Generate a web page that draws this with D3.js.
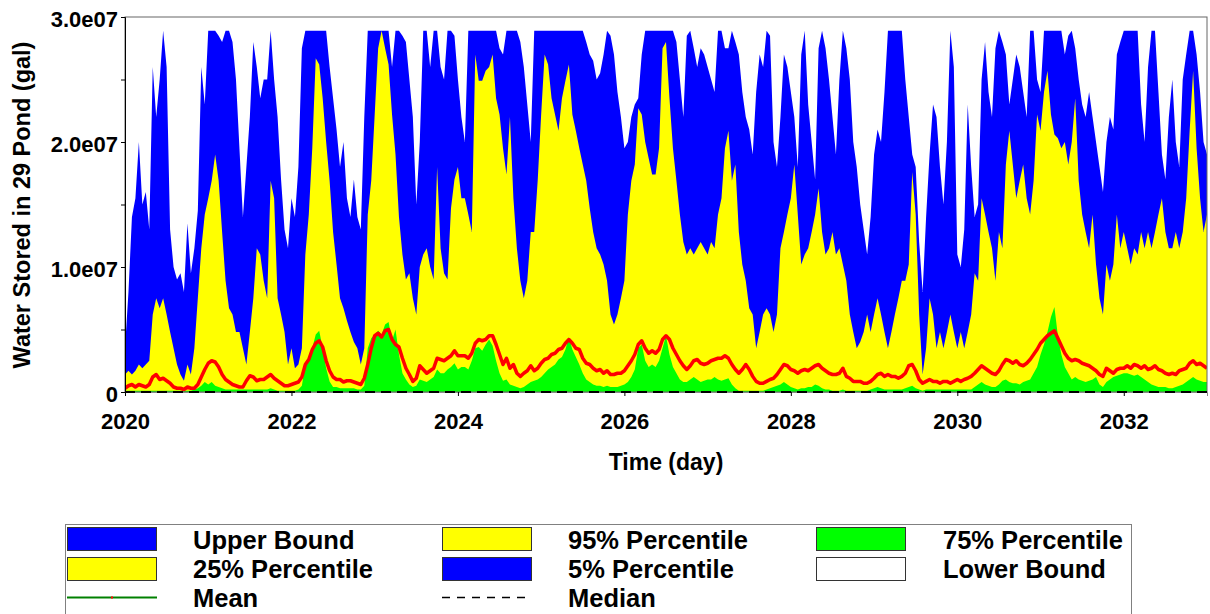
<!DOCTYPE html>
<html><head><meta charset="utf-8">
<script src="https://cdn.jsdelivr.net/npm/d3@7"></script>
<style>
html,body{margin:0;padding:0;background:#fff;}
svg{display:block;font-family:"Liberation Sans",Arial,sans-serif;font-weight:bold;}
</style>
</head><body>
<svg id="c" width="1210" height="614"></svg>
<script>
// Values in millions of gallons, sampled every half month from 2020.0 (24 samples per year)
const upperBound = [
3.5,8,14,15.5,20,15,16,13,26,22,
25,28.9,26,13,10,9,9.5,8,13.5,9.5,
11.5,14.5,26,23,28.9,28.9,28.9,28.5,28,28.9,
28.9,28,25,19.5,14,18,22,28,26,23.5,
25,25,28.9,25,22,17,13,11.5,15.5,14,
18,27.5,28.9,28.9,28.9,28.9,28.9,28.9,28.9,26,
23.5,21,18,20,15.5,14,17,14,13,22,
28.9,28.9,28.9,28.9,28.9,28.9,28.9,26,28.9,28.9,
28.5,28,25,22,15,20,28.9,28.9,26,28.9,
28.9,26,25,28.9,28.9,28.5,25,22,20,28.9,
28.9,28.9,28.9,28.9,28.9,28.9,28.9,28.9,27.5,27,
28.9,28.9,28.9,28.9,28,26,23,20,28.9,28.9,
28.9,28.9,28.9,28.9,28.9,28.9,28.9,28.9,28.9,28.9,
28.9,28.9,28.9,28,27,26.5,25,25.5,27,28.9,
28.5,27,24,22,19.5,20,22,23,23.5,27,
28.9,28.9,28.9,28.9,28.9,28.9,28.9,28.9,28.9,28,
25,22,28.5,28.9,27.5,26,27.5,27,26,25,
24,28.9,28.9,27.5,27.5,28.9,28,27,24,22,
21,19,24,27,26,28.9,28.5,20,18,22,
27,26,24,22,18,27,28.9,23,20,17,
27.5,28.9,27.5,25,22,19,25,28.9,27.5,25,
20,18,15,13,11,14,19,21,20,24,
28.9,28.9,28.9,28.9,28.9,25,22,19,18,12,
8,14,19,23,22,18,15,20,28.9,26,
11,10,13,23,18,14,15,25,28,24,
22,27.5,28.9,28,27,23,25,27,26,24,
22,28.9,28.9,25,24,28.9,28.9,28.9,28.9,28.9,
28.9,27,28.5,28.9,27.5,25,23,22,24,22,
20,18,16,20,22,21,27,28,28.9,28.9,
28.9,28.9,28.9,23,20,26,28.9,28.9,24,19,
17,22,25,20,18,25,27,28.9,28.9,27,
24,20,19];

const p95 = [
1.4,1.7,1.4,1.7,2.2,1.9,2.2,2.5,6.2,7.5,
6.7,7.5,6.2,4.8,3.5,2.2,1.4,0.9,2.2,1.4,
3.5,7.5,11.5,14.2,15.5,16.9,19,16.9,12.8,8.9,
6.7,6.2,4.8,4.8,3.5,2.2,4.8,7.5,11.5,11,
8.9,7.5,16.9,15.5,7.5,6.2,4.8,2.2,3.5,1.9,
2.2,3.5,11,14.2,19.5,26.7,26.2,23.5,20,16.9,
12.8,10.2,7.5,6.7,5.7,4.8,4,3.5,2.2,3.5,
14.2,16.9,22.2,27.5,28.9,27.5,26.2,22.2,19,14,
11,9,9.5,7.5,6.2,10,11,11.5,10,9,
18,11.5,9.5,9,14.7,17,18,15.5,15.5,14.2,
12.8,27,24.9,24.9,25.7,26,27,23.5,22.2,19.5,
17.4,22,15.5,11.5,8.9,7.5,8.9,12.8,12.8,16.9,
22.2,27,26.2,23.5,22.2,20.9,23.5,24.9,26.2,22.2,
20.9,19.5,18.2,16.9,14.7,12.8,11.5,11,10.2,8.9,
6.2,5.4,6.2,7.5,8.9,14.2,16.9,18.2,22.7,22.2,
20,18.7,17.4,17.4,19.5,27.5,28,23.5,19.5,16.9,
14.2,12,11,11.5,11,11.5,12,11.5,11,12,
11.5,14.2,15.5,19.5,20.9,16.9,18.2,12.8,10.2,8.9,
6.7,6.2,3.5,4.8,6.2,6.7,6.2,4.8,6.2,11.5,
12.8,14.2,15.5,18.2,14.2,10.2,11,11.5,12.8,14.2,
16.3,12.8,11,11.5,12.8,11,11.5,10.2,8.9,6.2,
4.8,3.5,4,4.8,6.2,4.8,6.2,7.5,6.2,4.8,
3.5,4.8,6.2,7.5,8.9,8.9,10.2,17.6,14.2,6.2,
1.4,3.5,7.5,6.2,3.5,4.8,3.5,4.8,6.2,4.8,
3.5,4.8,3.5,4.8,6.2,9.5,8.9,15.5,14.2,12.8,
11.5,8.9,12.8,11.5,18.2,20.9,18.2,15.5,16.9,18.2,
15.5,14.2,16.9,22.2,20.9,24,25.7,22.2,20.6,20.3,
19.5,20,18.2,20,23.5,16.9,14.2,12.8,11.5,14.2,
10.2,7.5,6.2,10.2,8.9,10.2,14.2,11.5,12.8,11.5,
10.2,11.5,11,12.8,11.5,12.8,11.5,12.8,14.2,15.5,
12.8,11.5,11.5,12.8,11.5,12.8,15.5,20.9,25.7,19.5,
15.5,12.8,14.2];

const p75 = [
0.1,0.1,0.1,0.1,0.1,0.1,0.1,0.1,0.1,0.1,
0.1,0.1,0.1,0.1,0.1,0.1,0.1,0.1,0.1,0.1,
0.2,0.3,0.5,0.8,0.6,0.8,0.5,0.4,0.3,0.2,
0.2,0.2,0.2,0.2,0.2,0.2,0.2,0.2,0.2,0.2,
0.2,0.2,0.3,0.2,0.1,0.1,0.1,0.1,0.1,0.1,
0.2,0.5,2.2,2.7,3.5,4.6,4.9,3.5,1.9,0.85,
0.4,0.4,0.3,0.3,0.3,0.3,0.3,0.2,0.2,0.5,
3.5,4.3,4.6,4.9,4.6,5.4,5.6,4.1,5,3,
1.5,1,0.6,0.4,0.5,1,0.9,0.8,1,1.2,
1.8,1.5,1.5,1.8,2,2.3,1.8,2,2,1.8,
2.5,3.5,3.6,3.3,3.8,4.2,3.7,2.5,1.5,0.9,
1,0.6,0.5,0.4,0.3,0.4,0.6,0.8,0.9,1,
1.2,1.5,1.8,2,2.2,2.6,2.8,3.4,4.4,3.4,
2.8,2.2,1.5,1,0.8,0.6,0.5,0.5,0.4,0.5,
0.4,0.4,0.4,0.5,0.6,0.8,1.2,1.8,3.5,3.8,
2.5,2,2.2,2,2.5,3.5,4.5,3,2,1.5,
1,0.8,0.8,1,1.2,1,0.8,0.9,1,1,
1.2,1,0.9,1,1.1,0.6,0.3,0.1,0.1,0.1,
0.1,0.1,0.1,0.1,0.1,0.2,0.3,0.4,0.5,0.6,
0.8,0.6,0.4,0.3,0.2,0.3,0.3,0.4,0.4,0.6,
0.5,0.3,0.2,0.2,0.1,0.1,0.1,0.2,0.1,0.1,
0.1,0.1,0.1,0.1,0.1,0.2,0.3,0.4,0.3,0.2,
0.2,0.2,0.2,0.2,0.2,0.3,0.4,0.5,0.3,0.2,
0.1,0.2,0.2,0.2,0.2,0.2,0.2,0.2,0.2,0.2,
0.2,0.2,0.2,0.2,0.2,0.4,0.6,0.8,0.6,0.5,
0.4,0.4,0.6,0.9,1,0.8,0.7,0.7,0.6,0.8,
0.9,1,1.5,2,3,3.8,4.8,6,6.8,4.5,
3,2,1.5,1,1.2,1,0.9,0.8,0.9,1,
1.2,0.6,0.4,0.8,1,1.2,1.3,1.4,1.5,1.5,
1.4,1.3,1.4,1.2,1,0.8,0.6,0.5,0.4,0.4,
0.4,0.3,0.3,0.4,0.5,0.6,0.8,1,1.2,1,
0.9,0.8,0.8];

const meanValues = [
0.3,0.5,0.6,0.4,0.6,0.5,0.4,0.6,1.2,1.4,
1,1.1,0.9,0.7,0.4,0.3,0.3,0.2,0.4,0.3,
0.3,0.6,1.2,1.8,2.3,2.5,2.4,2,1.4,1,
0.8,0.6,0.5,0.4,0.4,0.9,1.3,1.2,0.9,1,
1,1.2,1.4,1.1,0.9,0.7,0.5,0.5,0.6,0.7,
0.8,1.2,2.2,2.6,3.4,3.9,4.1,3.6,2.5,1.7,
1.2,1,1,0.8,0.9,0.9,0.8,0.7,0.6,1.1,
2.2,3.5,4.5,4.7,4.4,4.9,5,4.2,3.8,3.6,
2.7,1.9,1.4,0.85,1.1,2.1,1.8,1.5,1.7,1.9,
2.7,2.6,2.5,2.7,2.9,3.3,2.9,2.9,2.9,2.7,
3.1,3.9,4.2,4.1,4.2,4.5,4.5,3.8,3,2.2,
2.7,1.9,2.2,1.5,1.25,1.5,1.7,2.1,1.7,1.9,
2.3,2.6,2.7,3,3.1,3.4,3.5,3.9,4.2,3.9,
3.5,3.4,2.7,2.3,2.2,1.9,1.7,1.8,1.5,1.7,
1.4,1.4,1.5,1.5,1.7,2.1,2.5,3,3.8,4.1,
3.5,3.1,3.3,3.1,3.4,4.2,4.5,4.2,3.5,3,
2.5,2.1,1.8,2.1,2.5,2.6,2.3,2.2,2.3,2.5,
2.6,2.7,2.7,2.9,2.7,2.2,1.8,1.5,1.8,2.2,
1.8,1.25,0.85,0.7,0.7,0.85,1,1.1,1.4,1.8,
2.2,2.1,1.8,1.7,1.5,1.7,1.8,1.7,1.9,2.1,
2.2,1.9,1.7,1.5,1.4,1.4,1.5,1.9,1.25,1.1,
0.85,0.85,0.85,0.7,0.7,0.85,1.1,1.4,1.5,1.25,
1.4,1.25,1.25,1.1,1.25,1.5,2.1,2.2,1.7,1,
0.7,0.85,1,0.85,0.85,0.7,0.85,0.85,0.7,0.85,
1,0.85,1,1.1,1.25,1.5,1.8,2.1,1.9,1.7,
1.5,1.4,1.7,2.2,2.6,2.5,2.3,2.5,2.2,2.1,
2.3,2.6,3,3.4,3.9,4.2,4.5,4.7,4.9,4.3,
3.7,3.1,2.7,2.5,2.6,2.5,2.3,2.2,2.1,1.9,
1.7,1.4,1.25,1.9,1.7,1.5,1.8,1.9,1.9,2.1,
1.9,2.2,2.1,1.9,2.1,1.8,1.9,2.1,1.8,1.7,
1.5,1.4,1.5,1.4,1.7,1.8,1.9,2.3,2.5,2.2,
2.3,2.1,1.9];

// Yearly values (2020..2033) for the series that stay at zero
const years = [2020,2021,2022,2023,2024,2025,2026,2027,2028,2029,2030,2031,2032,2033];
const p25 = [0,0,0,0,0,0,0,0,0,0,0,0,0,0];
const p5 = [0,0,0,0,0,0,0,0,0,0,0,0,0,0];
const lowerBound = [0,0,0,0,0,0,0,0,0,0,0,0,0,0];
const medianValues = [0,0,0,0,0,0,0,0,0,0,0,0,0,0];

const xTickYears = [2020,2022,2024,2026,2028,2030,2032];
const yTickValues = [0,5e6,1e7,1.5e7,2e7,2.5e7,3e7];
const yTickLabels = {0:"0",10000000:"1.0e07",20000000:"2.0e07",30000000:"3.0e07"};

const legendItems = [
  {label:"Upper Bound", type:"box", color:"#0000ff"},
  {label:"95% Percentile", type:"box", color:"#ffff00"},
  {label:"75% Percentile", type:"box", color:"#00ff00"},
  {label:"25% Percentile", type:"box", color:"#ffff00"},
  {label:"5% Percentile", type:"box", color:"#0000ff"},
  {label:"Lower Bound", type:"box", color:"#ffffff"},
  {label:"Mean", type:"mean"},
  {label:"Median", type:"median"}
];

const svg = d3.select("#c");
const L = 125, R = 1207, T = 17, B = 392;
const x = d3.scaleLinear().domain([2020, 2033]).range([L, R]);
const y = d3.scaleLinear().domain([0, 3e7]).range([B, T]);
const tHalf = i => 2020 + i / 24;
const M = 1e6;

svg.append("defs").append("clipPath").attr("id","clip")
  .append("rect").attr("x",L).attr("y",T).attr("width",R-L).attr("height",B-T);
const plot = svg.append("g").attr("clip-path","url(#clip)");

function halfArea(data, color) {
  const a = d3.area().x((d,i)=>x(tHalf(i))).y0(y(0)).y1(d=>y(d*M));
  plot.append("path").datum(data).attr("d", a).attr("fill", color);
}
function yearArea(data, color) {
  const a = d3.area().x((d,i)=>x(years[i])).y0(y(0)).y1(d=>y(d*M));
  plot.append("path").datum(data).attr("d", a).attr("fill", color);
}
halfArea(upperBound, "#0000ff");
halfArea(p95, "#ffff00");
halfArea(p75, "#00ff00");
yearArea(p25, "#ffff00");
yearArea(p5, "#0000ff");
yearArea(lowerBound, "#ffffff");

// Mean line
plot.append("path").datum(meanValues)
  .attr("d", d3.line().x((d,i)=>x(tHalf(i))).y(d=>y(d*M)))
  .attr("fill","none").attr("stroke","#ff0000").attr("stroke-width",3.5).attr("stroke-linejoin","round");

// frame
svg.append("rect").attr("x",L).attr("y",T).attr("width",R-L).attr("height",B-T)
  .attr("fill","none").attr("stroke","#666").attr("stroke-width",1);

// axes
const yAxis = d3.axisLeft(y).tickValues(yTickValues).tickSize(4).tickPadding(3)
  .tickFormat(d => yTickLabels[d] !== undefined ? yTickLabels[d] : "");
const gy = svg.append("g").attr("transform",`translate(${L},0)`).call(yAxis);
gy.selectAll("text").attr("font-size",22).attr("font-weight","bold")
  .attr("font-family","Liberation Sans, Arial, sans-serif").attr("fill","#000").attr("dy","0.45em");
gy.select(".domain").attr("stroke","#000");

const xAxis = d3.axisBottom(x).tickValues(xTickYears).tickSize(4).tickPadding(17).tickFormat(d3.format("d"));
const gx = svg.append("g").attr("transform",`translate(0,${B})`).call(xAxis);
gx.selectAll("text").attr("font-size",22).attr("font-weight","bold")
  .attr("font-family","Liberation Sans, Arial, sans-serif").attr("fill","#000");
gx.select(".domain").attr("stroke","#888");

// Median dashed line
svg.append("path").datum(medianValues)
  .attr("d", d3.line().x((d,i)=>x(years[i])).y(d=>y(d*M)))
  .attr("fill","none").attr("stroke","#000").attr("stroke-width",2).attr("stroke-dasharray","10,6");

// titles
svg.append("text").attr("x",666).attr("y",470).attr("text-anchor","middle")
  .attr("font-size",23).text("Time (day)");
svg.append("text").attr("transform","translate(30,205) rotate(-90)").attr("text-anchor","middle")
  .attr("font-size",23.5).text("Water Stored in 29 Pond (gal)");

// legend
svg.append("rect").attr("x",65.5).attr("y",524.5).attr("width",1066).attr("height",120)
  .attr("fill","#fff").attr("stroke","#808080");
const colSw = [67, 442, 816], colTx = [193, 568, 943];
const rowTop = [527, 557, 587], rowBase = [549, 578, 607];
legendItems.forEach((it, k) => {
  const c = k % 3, r = Math.floor(k / 3);
  const g = svg.append("g");
  if (it.type === "box") {
    g.append("rect").attr("x",colSw[c]+0.5).attr("y",rowTop[r]+0.5).attr("width",89).attr("height",23)
      .attr("fill",it.color).attr("stroke","#333");
  } else if (it.type === "mean") {
    g.append("line").attr("x1",colSw[c]).attr("x2",colSw[c]+90).attr("y1",597.5).attr("y2",597.5)
      .attr("stroke","#008000").attr("stroke-width",2);
    g.append("rect").attr("x",colSw[c]+44).attr("y",596.5).attr("width",2).attr("height",2).attr("fill","#ff0000");
  } else {
    g.append("line").attr("x1",colSw[c]).attr("x2",colSw[c]+90).attr("y1",597.5).attr("y2",597.5)
      .attr("stroke","#000").attr("stroke-width",1.5).attr("stroke-dasharray","8,7");
  }
  g.append("text").attr("x",colTx[c]).attr("y",rowBase[r]).attr("font-size",25.5).text(it.label);
});
</script>
</body></html>
